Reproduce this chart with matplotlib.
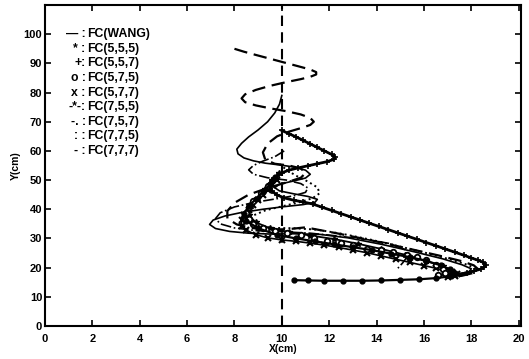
import matplotlib
matplotlib.use('Agg')
import matplotlib.pyplot as plt

# trajectories (x, y in cm)
wang_x = [8.0, 8.4, 8.9, 9.5, 10.1, 10.7, 11.2, 11.45, 11.45, 11.2, 10.8, 10.2, 9.5, 8.9,
          8.45, 8.3, 8.45, 8.9, 9.5, 10.2, 10.8, 11.2, 11.35, 11.2, 10.8, 10.3, 9.8, 9.4,
          9.2, 9.3, 9.7, 10.3, 10.8, 11.0, 10.8, 10.2, 9.4, 8.6, 8.0, 7.7, 7.7, 8.1, 8.7,
          9.5, 10.3, 11.0, 12.3, 13.8, 15.3, 16.6, 17.6, 18.1, 18.3, 18.1, 17.6, 17.0]
wang_y = [95.0, 94.0, 92.9, 91.6, 90.3, 89.0, 87.9, 87.0, 86.2, 85.4, 84.6, 83.6, 82.3,
          80.9, 79.4, 78.0, 76.7, 75.6, 74.6, 73.6, 72.5, 71.3, 70.0, 68.9, 67.8, 66.6,
          65.0, 62.5, 59.5, 57.0, 55.6, 55.0, 54.0, 52.4, 50.8, 49.2, 47.3, 45.0, 42.2,
          39.4, 36.8, 34.8, 33.6, 33.0, 33.2, 33.8, 31.8, 29.3, 26.6, 24.2, 22.2, 20.8,
          19.4, 18.2, 17.2, 16.6]

s555_x = [9.7, 9.5, 9.2, 8.9, 8.6, 8.4, 8.5, 9.0, 9.8, 10.6, 11.4, 12.2, 13.0, 13.8,
          14.6, 15.4, 16.1, 16.7, 17.1, 17.3, 17.1, 16.5, 15.8, 15.0, 14.2, 13.4, 12.6,
          11.8, 11.1, 10.5]
s555_y = [51.0, 48.5, 46.0, 43.5, 41.0, 38.5, 36.0, 33.5, 31.2, 30.0, 29.0, 28.0, 27.0,
          26.0, 24.8, 23.6, 22.3, 20.8, 19.4, 18.0, 17.0, 16.4, 16.0, 15.8, 15.6, 15.5,
          15.5, 15.5, 15.6, 15.7]

s557_x = [10.0, 10.3, 10.6, 10.9, 11.2, 11.5, 11.8, 12.1, 12.25, 12.2, 11.9, 11.5, 11.1,
          10.7, 10.3, 10.0, 9.8, 9.6, 9.5, 9.5, 9.6, 9.8, 10.1, 10.5, 10.9, 11.3, 11.7,
          12.1, 12.5, 12.9, 13.3, 13.7, 14.1, 14.5, 14.9, 15.3, 15.7, 16.1, 16.5, 16.9,
          17.3, 17.7, 18.0, 18.3, 18.5, 18.6, 18.55, 18.4, 18.1, 17.8, 17.4]
s557_y = [67.0, 65.9, 64.8, 63.6, 62.4, 61.2, 60.0, 58.8, 57.9, 57.1, 56.3, 55.6, 54.9,
          54.2, 53.4, 52.5, 51.4, 50.2, 48.8, 47.4, 46.1, 44.9, 43.9, 43.1, 42.5, 41.8,
          40.7, 39.6, 38.5, 37.4, 36.3, 35.2, 34.1, 33.0, 31.9, 30.8, 29.7, 28.6, 27.5,
          26.4, 25.3, 24.2, 23.3, 22.5, 21.8, 21.0, 20.2, 19.5, 18.8, 18.2, 17.6]

s575_x = [9.4, 9.1, 8.8, 8.6, 8.5, 8.6, 8.8, 9.2, 9.7, 10.2, 10.8, 11.35, 11.9, 12.5,
          13.0, 13.6, 14.2, 14.7, 15.3, 15.7, 16.1, 16.5, 16.8, 16.9, 16.6]
s575_y = [48.0, 45.5, 43.0, 40.8, 38.6, 36.5, 34.8, 33.6, 32.6, 31.8, 31.1, 30.0, 29.0,
          28.5, 27.7, 26.5, 25.9, 25.3, 24.2, 23.5, 22.6, 21.0, 19.6, 18.3, 17.5]

s577_x = [9.8, 9.6, 9.4, 9.2, 9.0, 8.8, 8.6, 8.4, 8.3, 8.3, 8.5, 8.9, 9.4, 10.0, 10.6,
          11.2, 11.8, 12.4, 13.0, 13.6, 14.2, 14.8, 15.4, 16.0, 16.5, 16.9, 17.2, 17.4,
          17.3, 17.0]
s577_y = [50.0, 48.3, 46.6, 44.9, 43.2, 41.5, 39.8, 38.0, 36.2, 34.4, 32.8, 31.3, 30.2,
          29.5, 29.0, 28.4, 27.7, 26.9, 26.0, 25.1, 24.0, 22.9, 21.8, 20.7, 19.8, 19.0,
          18.4, 17.8, 17.2, 16.8]

s755_x = [9.9, 9.6, 9.3, 9.0, 8.7, 8.6, 8.9, 9.5, 10.3, 11.2, 12.2, 13.2, 14.2, 15.2,
          16.1, 16.8, 17.2, 17.1, 16.6]
s755_y = [52.5, 50.0, 47.0, 44.0, 41.0, 38.0, 35.5, 33.5, 32.2, 31.0, 29.8, 28.2, 26.4,
          24.4, 22.3, 20.4, 18.8, 17.8, 17.3]

s757_x = [10.1, 9.7, 9.2, 8.8, 8.6, 8.8, 9.4, 10.2, 10.8, 11.1, 11.0, 10.5, 9.7, 8.8,
          8.0, 7.4, 7.2, 7.4, 8.0, 8.9, 10.0, 11.2, 12.4, 13.6, 14.6, 15.2, 15.3, 15.1,
          14.9]
s757_y = [60.0, 58.0, 56.5, 55.0, 53.5, 52.0, 50.8, 50.0, 48.8, 47.3, 45.8, 44.6, 43.5,
          42.3, 40.8, 38.8, 36.8, 35.0, 33.6, 32.7, 32.3, 31.8, 30.8, 29.6, 28.2, 26.2,
          23.8, 21.6, 19.8]

s775_x = [9.9, 10.2, 10.6, 11.1, 11.5, 11.6, 11.3, 10.7, 10.0, 9.3, 8.8, 8.6, 8.9, 9.6,
          10.5, 11.5, 12.6, 13.8, 15.0, 16.2, 17.2, 17.9, 18.2, 18.0, 17.5]
s775_y = [55.5, 53.5, 51.5, 49.5, 47.5, 45.5, 43.8, 42.3, 41.0, 39.6, 37.9, 36.0, 34.4,
          33.6, 33.5, 33.0, 31.5, 29.5, 27.2, 24.8, 22.6, 20.8, 19.4, 18.3, 17.6]

s777_x = [10.0, 9.9, 9.7, 9.4, 9.0, 8.6, 8.3, 8.1, 8.15, 8.4, 8.8, 9.3, 9.9, 10.5, 11.0,
          11.2, 11.0, 10.5, 9.9, 9.7, 9.9, 10.5, 11.1, 11.5, 11.4, 10.9, 10.1, 9.2, 8.3,
          7.6, 7.1, 6.95, 7.2, 7.8, 8.6, 9.5, 10.5, 11.6, 12.8, 14.2, 15.6, 16.8, 17.6,
          18.0, 17.9, 17.5, 16.9]
s777_y = [79.0, 76.0, 73.0, 70.0, 67.2, 64.8, 62.6, 60.6, 59.0, 57.6, 56.6, 55.8, 55.2,
          54.5, 53.4, 52.0, 50.7, 49.7, 48.6, 47.4, 46.3, 45.3, 44.4, 43.4, 42.4, 41.6,
          40.9, 40.0, 38.9, 37.7, 36.3, 34.8, 33.4, 32.4, 31.8, 31.5, 31.6, 31.4, 30.2,
          28.0, 25.4, 23.0, 21.0, 19.6, 18.6, 17.9, 17.4]

legend_marks = ['\u2014 :', '* :', '+:', 'o :', 'x :', '-*-:', '-. :', ': :', '- :']
legend_names = ['FC(WANG)', 'FC(5,5,5)', 'FC(5,5,7)', 'FC(5,7,5)', 'FC(5,7,7)',
                'FC(7,5,5)', 'FC(7,5,7)', 'FC(7,7,5)', 'FC(7,7,7)']
legend_y = [100, 95, 90, 85, 80, 75, 70, 65, 60]

plt.rcParams['font.family'] = ['Liberation Sans', 'DejaVu Sans']
plt.rcParams['font.weight'] = 'bold'

fig = plt.figure(figsize=(5.29, 3.59), dpi=100)
ax = fig.add_axes([0.085, 0.092, 0.9, 0.894])

ax.axvline(10, color='k', ls=(0, (5, 3)), lw=1.5)

ax.plot(wang_x, wang_y, color='k', ls=(0, (6, 3)), lw=1.6)
ax.plot(s777_x, s777_y, color='k', ls='-', lw=1.2)
ax.plot(s757_x, s757_y, color='k', ls='-.', lw=1.2)
ax.plot(s775_x, s775_y, color='k', ls=':', lw=1.4)
ax.plot(s755_x, s755_y, color='k', ls='-', lw=1.3, marker='*', ms=4)
ax.plot(s577_x, s577_y, color='k', ls='-', lw=1.2, marker='x', ms=4, mew=1.5)
ax.plot(s575_x, s575_y, color='k', ls='none', marker='o', ms=4, mfc='white', mew=1.3)
ax.plot(s557_x, s557_y, color='k', ls='-', lw=2.0, marker='+', ms=5, mew=1.2)
ax.plot(s555_x, s555_y, color='k', ls='-', lw=1.6, marker='o', ms=3.5)

for m, n, y in zip(legend_marks, legend_names, legend_y):
    ax.text(1.72, y, m, ha='right', va='center', fontsize=8.8, fontweight='bold')
    ax.text(1.8, y, n, ha='left', va='center', fontsize=8.8, fontweight='bold')

ax.set_xlim(0, 20.1)
ax.set_ylim(0, 110)
ax.set_xticks(range(0, 21, 2))
ax.set_yticks(range(0, 101, 10))
ax.tick_params(direction='in', length=4, width=1.2, labelsize=8, top=True, right=True)
ax.tick_params(axis='x', pad=6)
ax.tick_params(axis='y', pad=2)
for s in ax.spines.values():
    s.set_linewidth(1.5)
ax.set_xlabel('X(cm)', fontsize=7.5, fontweight='bold', labelpad=0)
ax.set_ylabel('Y(cm)', fontsize=7.5, fontweight='bold', labelpad=2)

fig.savefig('out.png', dpi=100)
